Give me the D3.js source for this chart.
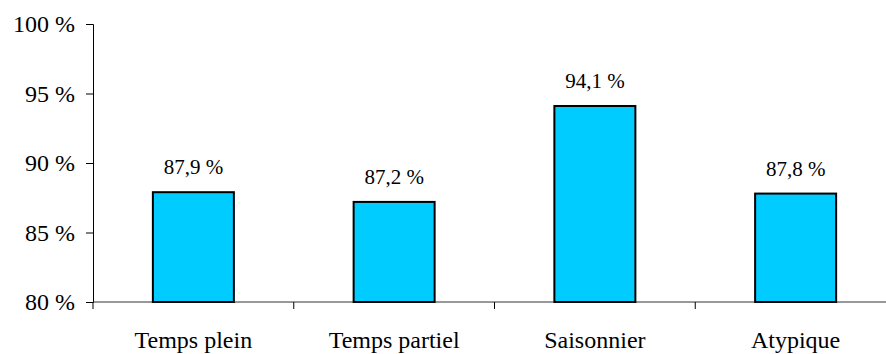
<!DOCTYPE html>
<html>
<head>
<meta charset="utf-8">
<script src="https://cdn.jsdelivr.net/npm/d3@7"></script>
<style>
  body { margin: 0; background: #fff; }
  svg text { font-family: "Liberation Serif", "Times New Roman", serif; fill: #000; }
</style>
</head>
<body>
<div id="chart"></div>
<script>
const categories = ["Temps plein", "Temps partiel", "Saisonnier", "Atypique"];
const values = [87.9, 87.2, 94.1, 87.8];
const yTicks = [80, 85, 90, 95, 100];

const width = 886, height = 354;
const x0 = 93, x1 = 896, yTop = 24, yBottom = 302;

const svg = d3.select("#chart").append("svg")
    .attr("width", width)
    .attr("height", height);

const y = d3.scaleLinear()
    .domain([80, 100])
    .range([yBottom, yTop]);

// category slots
const slot = (x1 - x0) / categories.length;
const bounds = d3.range(categories.length + 1).map(i => x0 + i * slot);
const barW = 81;

// y axis
const yAxis = svg.append("g")
    .attr("transform", `translate(${x0},0)`)
    .call(d3.axisLeft(y).tickValues(yTicks).tickSize(7).tickPadding(11)
        .tickFormat(d => d + " %"));
yAxis.attr("font-family", null);
yAxis.select(".domain").attr("stroke", "#000");
yAxis.selectAll("text").style("font-size", "24px").attr("dy", "0.33em");

// bottom axis line and boundary ticks
svg.append("line")
    .attr("x1", x0).attr("x2", width)
    .attr("y1", yBottom).attr("y2", yBottom)
    .attr("stroke", "#333");
svg.append("g").selectAll("line")
    .data(bounds)
    .join("line")
    .attr("x1", d => d).attr("x2", d => d)
    .attr("y1", yBottom).attr("y2", yBottom + 7)
    .attr("stroke", "#000");

// bars
svg.append("g").selectAll("rect")
    .data(values)
    .join("rect")
    .attr("x", (d, i) => bounds[i] + (slot - barW) / 2)
    .attr("width", barW)
    .attr("y", d => y(d))
    .attr("height", d => y(80) - y(d))
    .attr("fill", "#00CCFF")
    .attr("stroke", "#000")
    .attr("stroke-width", 2);

// value labels
svg.append("g").selectAll("text")
    .data(values)
    .join("text")
    .attr("x", (d, i) => bounds[i] + slot / 2)
    .attr("y", d => y(d) - 18)
    .attr("text-anchor", "middle")
    .style("font-size", "21px")
    .text(d => d.toFixed(1).replace(".", ",") + " %");

// category labels
svg.append("g").selectAll("text")
    .data(categories)
    .join("text")
    .attr("x", (d, i) => bounds[i] + slot / 2)
    .attr("y", 348)
    .attr("text-anchor", "middle")
    .style("font-size", "24px")
    .text(d => d);
</script>
</body>
</html>
